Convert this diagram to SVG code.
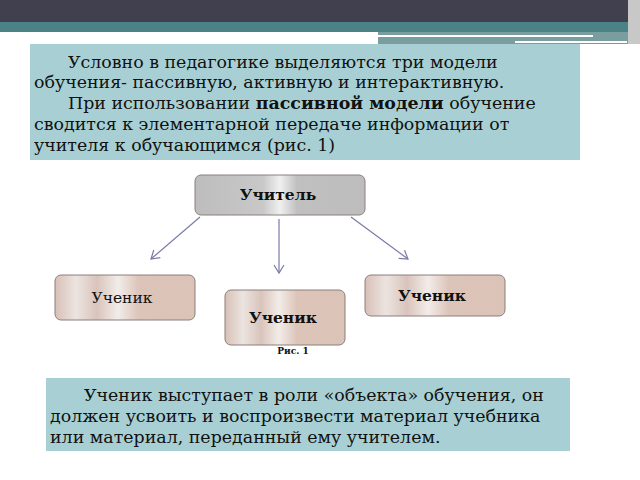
<svg xmlns="http://www.w3.org/2000/svg" width="640" height="480" viewBox="0 0 640 480">
<style>
.t{font-family:"DejaVu Serif","Liberation Serif",serif;font-size:17.4px;fill:#111}
.n{font-family:"DejaVu Serif","Liberation Serif",serif;font-size:15.5px;font-weight:bold;fill:#111;text-anchor:middle}
.b{stroke:#8a7f7a;stroke-width:1}
.a{stroke:#7a7aa8;stroke-width:1.2;fill:none}
</style>
<defs>
<linearGradient id="g1" x1="0" x2="1"><stop offset="0" stop-color="#bdbdbd"/><stop offset="0.4" stop-color="#c8c8c8"/><stop offset="0.5" stop-color="#f0f0f0"/><stop offset="0.6" stop-color="#c0c0c0"/><stop offset="1" stop-color="#bdbdbd"/></linearGradient>
<linearGradient id="g2" x1="0" x2="1"><stop offset="0" stop-color="#d8c0b6"/><stop offset="0.15" stop-color="#ece4e0"/><stop offset="0.3" stop-color="#d9c4bb"/><stop offset="0.45" stop-color="#f2ece9"/><stop offset="0.6" stop-color="#dcc4b9"/><stop offset="1" stop-color="#dcc3b8"/></linearGradient>
<marker id="m" markerWidth="12" markerHeight="12" refX="10" refY="6" orient="auto" markerUnits="userSpaceOnUse"><path d="M2,1 L10,6 L2,11" fill="none" stroke="#7a7aa8" stroke-width="1.2"/></marker>
</defs>
<rect width="640" height="480" fill="#fff"/>
<rect x="0" y="0" width="640" height="22" fill="#41404f"/>
<rect x="0" y="22" width="640" height="10" fill="#4b8285"/>
<rect x="378" y="32" width="262" height="12" fill="#7a9ea0"/>
<rect x="378" y="35" width="215" height="2" fill="#fff"/>
<rect x="515" y="41" width="112" height="2" fill="#fff"/>
<rect x="628" y="0" width="12" height="44" fill="#c8c8c8"/>
<rect x="30" y="44" width="550" height="116" fill="#a8d0d4"/>
<text class="t"><tspan x="68" y="68">Условно в педагогике выделяются три модели</tspan><tspan x="34" y="88">обучения- пассивную, активную и интерактивную.</tspan><tspan x="68" y="109">При использовании <tspan font-weight="bold">пассивной модели</tspan> обучение</tspan><tspan x="34" y="130">сводится к элементарной передаче информации от</tspan><tspan x="34" y="151">учителя к обучающимся (рис. 1)</tspan></text>
<g id="connectors">
<line class="a" x1="200" y1="217" x2="151" y2="259" marker-end="url(#m)"/>
<line class="a" x1="279" y1="219" x2="279" y2="273" marker-end="url(#m)"/>
<line class="a" x1="351" y1="217" x2="408" y2="259" marker-end="url(#m)"/>
</g>
<g id="teacher"><rect class="b" x="195" y="175" width="170" height="40" rx="6" fill="url(#g1)" stroke="#555"/><text class="n" x="278" y="200">Учитель</text></g>
<g id="s1"><rect class="b" x="55" y="275" width="140" height="45" rx="6" fill="url(#g2)"/><text class="n" x="122" y="303" style="font-weight:normal">Ученик</text></g>
<g id="s2"><rect class="b" x="225" y="290" width="120" height="55" rx="6" fill="url(#g2)"/><text class="n" x="283" y="323">Ученик</text></g>
<g id="s3"><rect class="b" x="365" y="275" width="140" height="41" rx="6" fill="url(#g2)"/><text class="n" x="432" y="301">Ученик</text></g>
<text x="293" y="354" font-family="DejaVu Serif,serif" font-size="9" font-weight="bold" text-anchor="middle" fill="#111">Рис. 1</text>
<rect x="46" y="378" width="524" height="73" fill="#a8d0d4"/>
<text class="t"><tspan x="84" y="401">Ученик выступает в роли «объекта» обучения, он</tspan><tspan x="50" y="422">должен усвоить и воспроизвести материал учебника</tspan><tspan x="50" y="443">или материал, переданный ему учителем.</tspan></text>
</svg>
